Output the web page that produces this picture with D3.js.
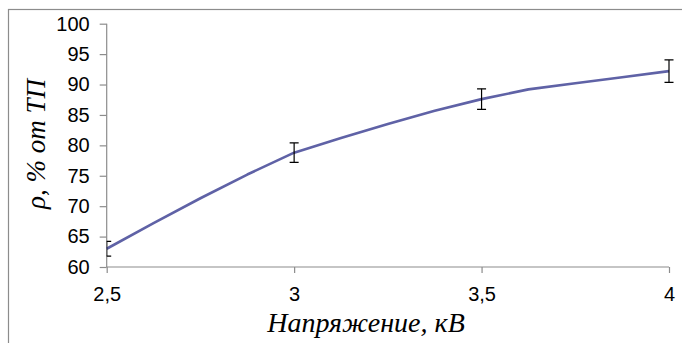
<!DOCTYPE html>
<html>
<head>
<meta charset="utf-8">
<script src="https://cdn.jsdelivr.net/npm/d3@7"></script>
<style>
  body { margin: 0; background: #fff; }
  svg { display: block; }
</style>
</head>
<body>
<div id="grafiek"></div>
<script>
// Data
const curveX = [2.5, 2.625, 2.75, 2.875, 3, 3.125, 3.25, 3.375, 3.5, 3.625, 3.75, 3.875, 4];
const curveY = [63.0, 67.2, 71.3, 75.2, 78.8, 81.2, 83.5, 85.7, 87.6, 89.2, 90.2, 91.2, 92.2];
const errX = [2.5, 3, 3.5, 4];
const errY = [63.0, 78.8, 87.6, 92.2];
const errSize = [1.2, 1.6, 1.7, 1.85];
const xTicks = [2.5, 3, 3.5, 4];
const yTicks = [60, 65, 70, 75, 80, 85, 90, 95, 100];

const width = 682, height = 343;
const margin = { top: 23.7, right: 13, bottom: 76, left: 106.7 };
const w = width - margin.left - margin.right,
  h = height - margin.top - margin.bottom;

const svg = d3.select('#grafiek')
  .append('svg')
  .attr('width', width)
  .attr('height', height);

// outer chart frame (only top and left fall inside the picture)
svg.append('rect')
  .attr('x', 8.5).attr('y', 9.5)
  .attr('width', 700).attr('height', 400)
  .attr('fill', 'none')
  .attr('stroke', '#8c8c8c')
  .attr('stroke-width', 1.2);

const g = svg.append('g')
  .attr('transform', `translate(${margin.left}, ${margin.top})`);

const x = d3.scaleLinear().domain([2.5, 4]).range([0, w]);
const y = d3.scaleLinear().domain([60, 100]).range([h, 0]);

const fmt = d => String(d).replace('.', ',');

// Y axis
const yAxis = g.append('g')
  .call(d3.axisLeft(y).tickValues(yTicks).tickSize(7).tickPadding(10).tickFormat(d => d));
// X axis
const xAxis = g.append('g')
  .attr('transform', `translate(0, ${h})`)
  .call(d3.axisBottom(x).tickValues(xTicks).tickSize(6).tickPadding(14).tickFormat(fmt));

[xAxis, yAxis].forEach(a => {
  a.selectAll('path').attr('stroke', '#8c8c8c').attr('stroke-width', 1.2);
  a.selectAll('line').attr('stroke', '#8c8c8c').attr('stroke-width', 1.2);
  a.selectAll('text')
    .attr('fill', '#000')
    .style('font-family', '"Liberation Sans", Arial, sans-serif')
    .style('font-size', '20px');
});
// the axis domain path has outer ticks; redraw it plain
xAxis.select('.domain').attr('d', `M0,0H${w}`);
yAxis.select('.domain').attr('d', `M0,0V${h}`);

// curve
const pts = curveX.map((v, i) => [v, curveY[i]]);
const line = d3.line()
  .x(d => x(d[0]))
  .y(d => y(d[1]));

g.append('path')
  .datum(pts)
  .attr('d', line)
  .attr('fill', 'none')
  .attr('stroke', '#5f62a6')
  .attr('stroke-width', 2.6)
  .attr('stroke-linejoin', 'round');

// error bars (clipped to plot area like the original)
g.append('clipPath').attr('id', 'plotclip')
  .append('rect').attr('x', 0).attr('y', -10).attr('width', w + 10).attr('height', h + 10);

const eb = g.append('g').attr('clip-path', 'url(#plotclip)')
  .selectAll('g')
  .data(errX.map((v, i) => ({ x: v, y: errY[i], e: errSize[i] })))
  .enter()
  .append('g');

eb.append('line')
  .attr('x1', d => x(d.x)).attr('x2', d => x(d.x))
  .attr('y1', d => y(d.y + d.e)).attr('y2', d => y(d.y - d.e))
  .attr('stroke', '#000').attr('stroke-width', 1.2);
eb.append('line')
  .attr('x1', d => x(d.x) - 4.5).attr('x2', d => x(d.x) + 4.5)
  .attr('y1', d => y(d.y + d.e)).attr('y2', d => y(d.y + d.e))
  .attr('stroke', '#000').attr('stroke-width', 1.2);
eb.append('line')
  .attr('x1', d => x(d.x) - 4.5).attr('x2', d => x(d.x) + 4.5)
  .attr('y1', d => y(d.y - d.e)).attr('y2', d => y(d.y - d.e))
  .attr('stroke', '#000').attr('stroke-width', 1.2);

// axis titles
svg.append('text')
  .attr('x', 366).attr('y', 332)
  .attr('text-anchor', 'middle')
  .style('font-family', '"Liberation Serif", "Times New Roman", serif')
  .style('font-style', 'italic')
  .style('font-size', '28px')
  .text('Напряжение, кВ');

svg.append('text')
  .attr('transform', 'translate(45, 144) rotate(-90)')
  .attr('text-anchor', 'middle')
  .style('font-family', '"Liberation Serif", "Times New Roman", serif')
  .style('font-style', 'italic')
  .style('font-size', '27px')
  .text('ρ, % от ТП');
</script>
</body>
</html>
